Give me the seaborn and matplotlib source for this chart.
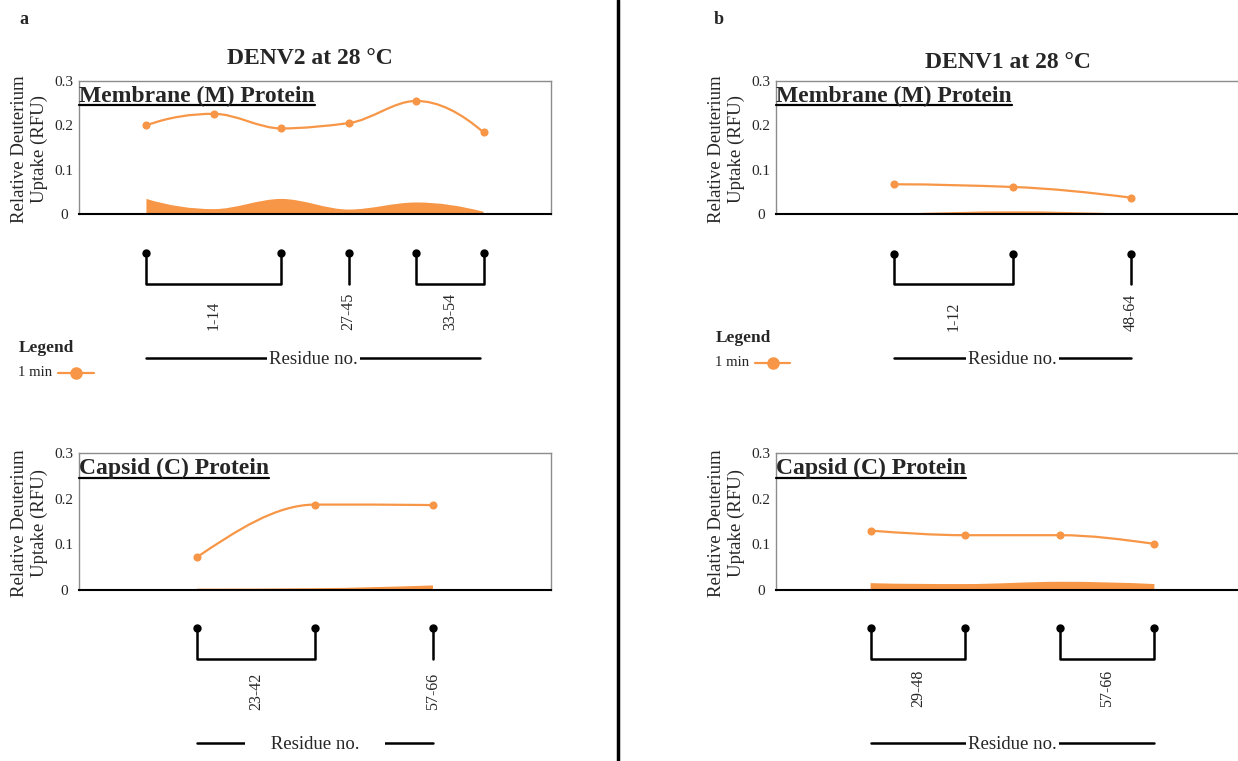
import numpy as np
import matplotlib
matplotlib.use("Agg")
from matplotlib import pyplot as plt
from matplotlib.path import Path
from matplotlib.patches import PathPatch
from matplotlib.lines import Line2D
from matplotlib.transforms import blended_transform_factory
import seaborn as sns

# ################################################
# Data
denv2_m_uptake = [0.200, 0.226, 0.193, 0.205, 0.255, 0.184]
denv2_m_spread = [0.034, 0.011, 0.034, 0.010, 0.026, 0.005]
denv2_m_groups = [(0, 2, "1-14", 1.0), (3, 3, "27-45", 3.0), (4, 5, "33-54", 4.5)]

denv2_c_uptake = [0.072, 0.187, 0.186]
denv2_c_spread = [0.003, 0.004, 0.010]
denv2_c_groups = [(0, 1, "23-42", 0.5), (2, 2, "57-66", 2.0)]

denv1_m_uptake = [0.067, 0.061, 0.037]
denv1_m_spread = [0.000, 0.006, 0.000]
denv1_m_groups = [(0, 1, "1-12", 0.5), (2, 2, "48-64", 2.0)]

denv1_c_uptake = [0.130, 0.120, 0.120, 0.101]
denv1_c_spread = [0.015, 0.013, 0.018, 0.013]
denv1_c_groups = [(0, 1, "29-48", 0.5), (2, 3, "57-66", 2.5)]

y_ticks = [0, 0.1, 0.2, 0.3]
y_tick_labels = ["0", "0.1", "0.2", "0.3"]

W, H = 1238, 761
ORANGE = "#F79646"

sns.set_style("white")
plt.rcParams["font.family"] = ["Liberation Serif", "DejaVu Serif"]

fig = plt.figure(figsize=(W / 100, H / 100), dpi=100)


def fy(p):
    # pixel row (from top) -> figure fraction
    return 1 - p / H


def tangents(ys):
    # shape-preserving slopes (unit spacing), flat at peaks/troughs
    d = np.diff(ys)
    n = len(ys)
    m = np.zeros(n)
    for i in range(1, n - 1):
        if d[i - 1] * d[i] > 0:
            m[i] = 2 / (1 / d[i - 1] + 1 / d[i])
    if n == 2:
        m[:] = d[0]
        return m
    for k, (a, b) in [(0, (d[0], d[1])), (n - 1, (d[-1], d[-2]))]:
        v = (3 * a - b) / 2
        if np.sign(v) != np.sign(a):
            v = 0
        elif np.sign(a) != np.sign(b) and abs(v) > abs(3 * a):
            v = 3 * a
        m[k] = v
    return m


def smooth_path(xs, ys, fill=False):
    # smoothed line drawn as cubic Bezier segments
    ys = np.asarray(ys, float)
    m = tangents(ys)
    verts = [(xs[0], ys[0])]
    codes = [Path.MOVETO]
    for i in range(len(xs) - 1):
        h = xs[i + 1] - xs[i]
        verts += [(xs[i] + h / 3, ys[i] + m[i] * h / 3),
                  (xs[i + 1] - h / 3, ys[i + 1] - m[i + 1] * h / 3),
                  (xs[i + 1], ys[i + 1])]
        codes += [Path.CURVE4] * 3
    if fill:
        verts += [(xs[-1], 0), (xs[0], 0), (xs[0], ys[0])]
        codes += [Path.LINETO, Path.LINETO, Path.CLOSEPOLY]
    return Path(verts, codes)


panels = [
    dict(box=(79, 81, 551, 214), xlim=(-1, 6), uptake=denv2_m_uptake, spread=denv2_m_spread,
         groups=denv2_m_groups, name="Membrane (M) Protein", base=102, uline=105,
         dot_y=253, bar_y=284, lab_y=330, res_y=358, res_span=(0, 4.95), res_text="Residue no."),
    dict(box=(776, 81, 1249, 214), xlim=(-1, 3), uptake=denv1_m_uptake, spread=denv1_m_spread,
         groups=denv1_m_groups, name="Membrane (M) Protein", base=102, uline=105,
         dot_y=254, bar_y=284, lab_y=331, res_y=358, res_span=(0, 2), res_text="Residue no."),
    dict(box=(79, 453, 551, 590), xlim=(-1, 3), uptake=denv2_c_uptake, spread=denv2_c_spread,
         groups=denv2_c_groups, name="Capsid (C) Protein", base=474, uline=478,
         dot_y=628, bar_y=659, lab_y=710, res_y=743, res_span=(0, 2),
         res_text="     Residue no.     "),
    dict(box=(776, 453, 1249, 590), xlim=(-1, 4), uptake=denv1_c_uptake, spread=denv1_c_spread,
         groups=denv1_c_groups, name="Capsid (C) Protein", base=474, uline=478,
         dot_y=628, bar_y=659, lab_y=707, res_y=743, res_span=(0, 3), res_text="Residue no."),
]

headers = []
for p in panels:
    l, t, r, b = p["box"]
    ax = fig.add_axes([l / W, fy(b), (r - l) / W, (b - t) / H])
    x = np.arange(len(p["uptake"]))

    # spread area + smoothed uptake line + markers
    ax.add_patch(PathPatch(smooth_path(x, p["spread"], fill=True), facecolor=ORANGE,
                           edgecolor="none", zorder=2))
    ax.add_patch(PathPatch(smooth_path(x, p["uptake"]), facecolor="none",
                           edgecolor=ORANGE, lw=1.6, zorder=3))
    sns.scatterplot(x=x, y=p["uptake"], ax=ax, color=ORANGE, s=34, linewidth=0, zorder=4)

    ax.set_xlim(*p["xlim"])
    ax.set_ylim(0, 0.3)
    ax.set_xticks([])
    ax.set_yticks(y_ticks, y_tick_labels, ha="center")
    ax.tick_params(axis="y", length=0, pad=11, labelsize=11)
    for side in ["left", "top", "right"]:
        ax.spines[side].set_color("#8c8c8c")
        ax.spines[side].set_linewidth(1)
    ax.spines["bottom"].set_color("black")
    ax.spines["bottom"].set_linewidth(1.5)

    ax.text(-0.104, 0.49, "Relative Deuterium\nUptake (RFU)", transform=ax.transAxes,
            rotation=90, ha="center", va="center", multialignment="center",
            fontsize=13.5, linespacing=1.2)

    hdr = fig.text(l / W, fy(p["base"]), p["name"], fontsize=17, fontweight="bold",
                   ha="left", va="baseline")
    headers.append((hdr, p["uline"]))

    # residue brackets under the plot
    trans = blended_transform_factory(ax.transData, fig.transFigure)
    for s, e, label, lx in p["groups"]:
        if s == e:
            xs, ys = [s, s], [fy(p["dot_y"]), fy(p["bar_y"])]
            dots = [s]
        else:
            xs = [s, s, e, e]
            ys = [fy(p["dot_y"]), fy(p["bar_y"]), fy(p["bar_y"]), fy(p["dot_y"])]
            dots = [s, e]
        ax.plot(xs, ys, transform=trans, clip_on=False, color="black", lw=1.8,
                solid_joinstyle="round")
        ax.plot(dots, [fy(p["dot_y"])] * len(dots), transform=trans, clip_on=False,
                ls="none", marker="o", ms=5, color="black")
        ax.text(lx, fy(p["lab_y"]), label, transform=trans, rotation=90,
                ha="center", va="bottom", fontsize=11.5)

    x0, x1 = p["res_span"]
    ax.plot([x0, x1], [fy(p["res_y"])] * 2, transform=trans, clip_on=False,
            color="black", lw=1.8)
    ax.text((x0 + x1) / 2, fy(p["res_y"] + 6), p["res_text"], transform=trans, ha="center",
            va="baseline", fontsize=13.5,
            bbox=dict(boxstyle="square,pad=0.1", facecolor="white", edgecolor="none"))

# titles and panel letters
fig.text(310 / W, fy(59), "DENV2 at 28 °C", fontsize=17, fontweight="bold", ha="center", va="center")
fig.text(1008 / W, fy(62), "DENV1 at 28 °C", fontsize=17, fontweight="bold", ha="center", va="center")
fig.text(19 / W, fy(19), "a", fontsize=13, fontweight="bold", ha="left", va="center")
fig.text(714 / W, fy(19), "b", fontsize=13, fontweight="bold", ha="left", va="center")

# legends
for lx, ly, line_x in [(18, 348, (58, 94)), (715, 338, (755, 790))]:
    fig.text(lx / W + 1 / W, fy(ly), "Legend", fontsize=12.5, fontweight="bold", va="center")
    fig.text(lx / W, fy(ly + 25), "1 min", fontsize=10.6, va="center")
    fig.add_artist(Line2D([line_x[0] / W, line_x[1] / W], [fy(ly + 25)] * 2,
                          color=ORANGE, lw=1.6))
    fig.add_artist(Line2D([(line_x[0] + line_x[1]) / 2 / W], [fy(ly + 25)], marker="o",
                          ms=8, color=ORANGE, ls="none"))

# divider between a and b
fig.add_artist(Line2D([618 / W, 618 / W], [0, 1], color="black", lw=2.5))

# underline the protein headers
fig.canvas.draw()
renderer = fig.canvas.get_renderer()
for hdr, u in headers:
    bb = hdr.get_window_extent(renderer)
    fig.add_artist(Line2D([bb.x0 / W, bb.x1 / W], [fy(u)] * 2, color="black", lw=1.6))

fig.savefig("out.png", dpi=100)
